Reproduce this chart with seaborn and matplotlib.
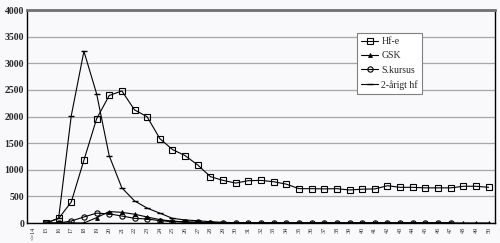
import numpy as np
import pandas as pd
import matplotlib
matplotlib.use("Agg")
import matplotlib.pyplot as plt
import seaborn as sns

nan = np.nan
categories = ["<=14"] + [str(a) for a in range(15, 51)]

hf_e = [nan, 0, 85, 395, 1180, 1955, 2395, 2480, 2125, 1995, 1585, 1380, 1265, 1090,
        870, 800, 750, 795, 800, 775, 730, 645, 645, 640, 645, 620, 635,
        640, 700, 670, 670, 660, 660, 660, 690, 690, 670]
gsk = [nan, 0, 0, 0, 0, 100, 215, 200, 165, 113, 63, 35, 22, 15,
       10, 6, 4, 3, 2, 2, 1, 1, 1, 1, 1, 1, 1,
       1, 1, 1, 1, 1, 1, 1, 1, 1, 1]
s_kursus = [nan, 0, 0, 38, 113, 185, 172, 131, 88, 75, 44, 25, 15, 10,
            6, 4, 3, 2, 2, 1, 1, 1, 1, 1, 1, 1, 1,
            1, 1, 1, 1, 1, 1, 1, nan, nan, nan]
to_aarigt = [nan, 0, 90, 2015, 3225, 2430, 1262, 660, 415, 280, 185, 88, 57, 42,
             25, 12, 6, 4, 3, 2, 1, 1, 1, 1, 1, 1, 1,
             1, 1, 1, 1, 1, 1, 1, nan, nan, nan]

series = {"Hf-e": hf_e, "GSK": gsk, "S.kursus": s_kursus, "2-årigt hf": to_aarigt}
styles = {
    "Hf-e": dict(marker="s", markersize=4.4, markerfacecolor="none", markeredgewidth=0.8),
    "GSK": dict(marker="^", markersize=2.8, markerfacecolor="black", markeredgewidth=0.6),
    "S.kursus": dict(marker="o", markersize=3.8, markerfacecolor="none", markeredgewidth=0.8),
    "2-årigt hf": dict(marker="_", markersize=5, markeredgewidth=1.0),
}

sns.set_theme(style="white")
plt.rcParams["font.family"] = ["Liberation Serif", "DejaVu Serif"]

bg = "#f9f9fb"
fig = plt.figure(figsize=(5.0, 2.43), dpi=100, facecolor=bg)
ax = fig.add_axes([0.054, 0.0823, 0.936, 0.8765])
ax.set_facecolor(bg)

pos = np.arange(len(categories))
for name, vals in series.items():
    sns.lineplot(x=pos, y=np.array(vals, dtype=float), ax=ax, color="black",
                 linewidth=0.8, linestyle="-", label=name,
                 markeredgecolor="black", **styles[name])

ax.set_xlim(-0.5, len(categories) - 0.5)
ax.set_ylim(0, 4000)
ax.set_yticks(np.arange(0, 4001, 500))
ax.set_yticklabels([str(v) for v in range(0, 4001, 500)], fontsize=7, fontweight="bold")
ax.set_xticks(pos)
ax.set_xticklabels(categories, rotation=90, fontsize=4.5)
ax.tick_params(axis="x", length=0, pad=3)
ax.tick_params(axis="y", length=0, pad=2)
ax.yaxis.grid(True, color="#a8a8a8", linewidth=0.9)
ax.set_axisbelow(True)
ax.set_xlabel("")
ax.set_ylabel("")

for s in ["left", "bottom", "right"]:
    ax.spines[s].set_color("black")
    ax.spines[s].set_linewidth(1.0)
ax.spines["top"].set_color("#707070")
ax.spines["top"].set_linewidth(2.0)

leg = ax.legend(loc="upper left", bbox_to_anchor=(0.705, 0.892), fontsize=7,
                frameon=True, fancybox=False, edgecolor="#808080",
                facecolor="white", framealpha=1, handlelength=1.8,
                handletextpad=0.3, borderpad=0.4, labelspacing=0.55,
                borderaxespad=0)
leg.get_frame().set_linewidth(0.8)

fig.savefig("out.png", dpi=100, facecolor=bg)
